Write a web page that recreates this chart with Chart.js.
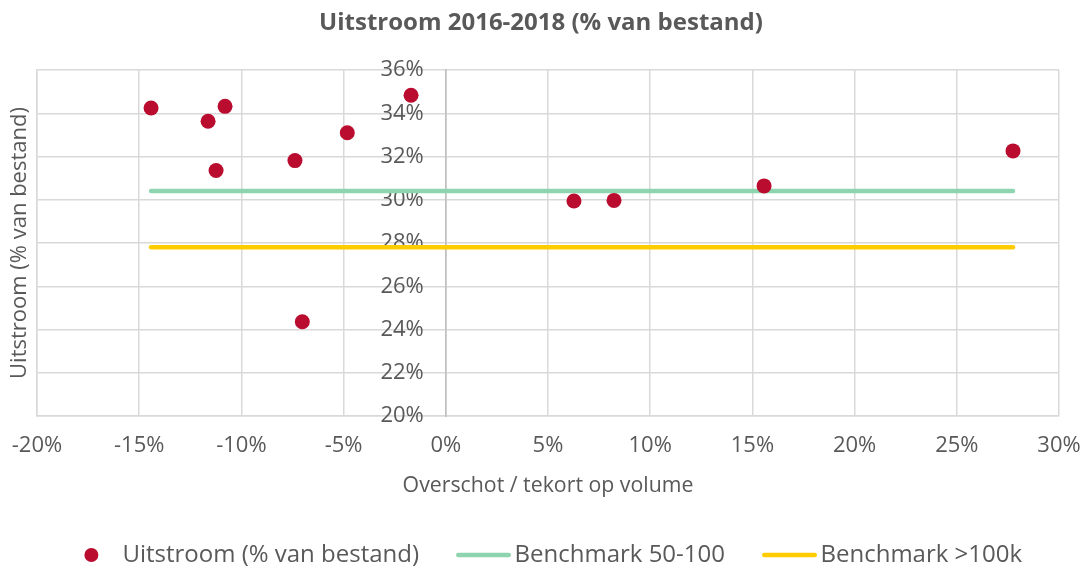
<!DOCTYPE html>
<html>
<head>
<meta charset="utf-8">
<title>Uitstroom 2016-2018</title>
<script src="https://cdn.jsdelivr.net/npm/chart.js@4/dist/chart.umd.min.js"></script>
<style>
  html, body { margin: 0; padding: 0; background: #ffffff; }
  #wrap { width: 1088px; height: 570px; }
</style>
</head>
<body>
<div id="wrap"><canvas id="chart" width="1088" height="570"></canvas></div>
<script>
// Overschot / tekort op volume (%) per organisatie
const overschot = [-14.42, -11.63, -10.80, -11.24, -7.38, -4.82, -1.70, -7.02, 6.27, 8.23, 15.57, 27.75];
// Uitstroom 2016-2018 (% van bestand) per organisatie
const uitstroom = [34.24, 33.63, 34.32, 31.35, 31.81, 33.10, 34.83, 24.36, 29.94, 29.97, 30.64, 32.26];

// Benchmarklijnen: begin- en eindpunt op de x-as
const benchmarkX = [-14.42, 27.75];
const benchmark50100 = [30.4, 30.4];
const benchmark100k = [27.8, 27.8];

const xTickValues = [-20, -15, -10, -5, 0, 5, 10, 15, 20, 25, 30];
const xTickLabels = ['-20%', '-15%', '-10%', '-5%', '0%', '5%', '10%', '15%', '20%', '25%', '30%'];
const yTickValues = [20, 22, 24, 26, 28, 30, 32, 34, 36];
const yTickLabels = ['20%', '22%', '24%', '26%', '28%', '30%', '32%', '34%', '36%'];

const TEXT = '#595959';
const GRID = '#d9d9d9';
const AXIS = '#bfbfbf';
const FONT = "'Open Sans', sans-serif";
const Y_LABEL_GAP = 22; // distance between the 0%-axis and its tick labels

Chart.defaults.font.family = FONT;
Chart.defaults.color = TEXT;

const toPoints = (xs, ys) => xs.map((x, i) => ({ x: x, y: ys[i] }));

// The value axis sits on x = 0; shift its labels to the left of that line
const crossingAxisLabels = {
  id: 'crossingAxisLabels',
  beforeDraw(chart) {
    const s = chart.scales.yLabels;
    if (!s || !s._computeLabelItems) return;
    const items = s._computeLabelItems(chart.chartArea);
    items.forEach(it => {
      if (it.options && it.options.translation) it.options.translation[0] -= Y_LABEL_GAP;
    });
    s._labelItems = items;
  }
};

// Legend under the plot: marker slot, label, spacing — centred on the canvas
const bottomLegend = {
  id: 'bottomLegend',
  afterDraw(chart) {
    const ctx = chart.ctx;
    const slot = 55, gap = 3.5, between = 37, cy = 555;
    ctx.save();
    ctx.font = "24px " + FONT;
    ctx.textBaseline = 'middle';
    ctx.textAlign = 'left';
    const items = chart.data.datasets.map(ds => ({ ds: ds, w: ctx.measureText(ds.label).width }));
    const total = items.reduce((s, it) => s + slot + gap + it.w, 0) + between * (items.length - 1);
    let x = chart.width / 2 - 1 - total / 2;
    items.forEach(it => {
      const ds = it.ds;
      if (ds.showLine) {
        ctx.strokeStyle = ds.borderColor;
        ctx.lineWidth = ds.borderWidth;
        ctx.lineCap = 'round';
        ctx.beginPath();
        ctx.moveTo(x + ds.borderWidth / 2, cy);
        ctx.lineTo(x + slot - ds.borderWidth / 2, cy);
        ctx.stroke();
      } else {
        ctx.fillStyle = ds.backgroundColor;
        ctx.beginPath();
        ctx.arc(x + slot / 2, cy, 7, 0, Math.PI * 2);
        ctx.fill();
      }
      ctx.fillStyle = TEXT;
      ctx.fillText(ds.label, x + slot + gap, cy);
      x += slot + gap + it.w + between;
    });
    ctx.restore();
  }
};

new Chart(document.getElementById('chart'), {
  type: 'scatter',
  data: {
    datasets: [
      {
        label: 'Uitstroom (% van bestand)',
        data: toPoints(overschot, uitstroom),
        backgroundColor: '#BA0C2F',
        borderWidth: 0,
        pointRadius: 7.5,
        pointHoverRadius: 7.5,
        pointBorderWidth: 0
      },
      {
        label: 'Benchmark 50-100',
        data: toPoints(benchmarkX, benchmark50100),
        showLine: true,
        borderColor: '#8ED4AE',
        backgroundColor: '#8ED4AE',
        borderWidth: 4.5,
        borderCapStyle: 'round',
        pointRadius: 0,
        pointHoverRadius: 0
      },
      {
        label: 'Benchmark >100k',
        data: toPoints(benchmarkX, benchmark100k),
        showLine: true,
        borderColor: '#FFCC00',
        backgroundColor: '#FFCC00',
        borderWidth: 4.5,
        borderCapStyle: 'round',
        pointRadius: 0,
        pointHoverRadius: 0
      }
    ]
  },
  options: {
    responsive: false,
    animation: false,
    layout: { padding: { left: 0, right: 6, top: 0, bottom: 68 } },
    plugins: {
      legend: { display: false },
      tooltip: { enabled: false },
      title: {
        display: true,
        text: 'Uitstroom 2016-2018 (% van bestand)',
        color: TEXT,
        font: { size: 24, weight: 'bold' },
        padding: { top: 9, bottom: 32.2 }
      }
    },
    scales: {
      x: {
        type: 'linear',
        min: -20,
        max: 30,
        afterBuildTicks(s) { s.ticks = xTickValues.map(v => ({ value: v })); },
        afterFit(s) { s.height = 86; s.paddingLeft = 0; s.paddingRight = 29; },
        grid: {
          color: c => (c.tick && c.tick.value === 0 ? AXIS : GRID),
          lineWidth: 1.5,
          drawTicks: false
        },
        border: { color: GRID, width: 1.5 },
        ticks: {
          padding: 17,
          font: { size: 22 },
          color: TEXT,
          maxRotation: 0,
          callback: (v, i) => xTickLabels[i]
        },
        title: {
          display: true,
          text: 'Overschot / tekort op volume',
          color: TEXT,
          font: { size: 21.3 },
          padding: { top: 0, bottom: 3 }
        }
      },
      y: {
        type: 'linear',
        position: 'left',
        min: 20,
        max: 36,
        afterBuildTicks(s) { s.ticks = yTickValues.map(v => ({ value: v })); },
        afterFit(s) { s.width = 37; s.paddingTop = 0; s.paddingBottom = 0; },
        grid: { color: GRID, lineWidth: 1.5, drawTicks: false },
        border: { color: GRID, width: 1.5 },
        ticks: { display: false },
        title: {
          display: true,
          text: 'Uitstroom (% van bestand)',
          color: TEXT,
          font: { size: 22 },
          padding: { top: 7, bottom: 0 }
        }
      },
      yLabels: {
        type: 'linear',
        axis: 'y',
        position: { x: 0 },
        min: 20,
        max: 36,
        afterBuildTicks(s) { s.ticks = yTickValues.map(v => ({ value: v })); },
        afterFit(s) { s.width = 0; s.paddingTop = 0; s.paddingBottom = 0; },
        grid: { display: false, drawTicks: false },
        border: { color: AXIS, width: 1.5 },
        ticks: {
          padding: 0,
          font: { size: 22 },
          color: TEXT,
          callback: (v, i) => yTickLabels[i]
        }
      }
    }
  },
  plugins: [crossingAxisLabels, bottomLegend]
});
</script>
</body>
</html>
